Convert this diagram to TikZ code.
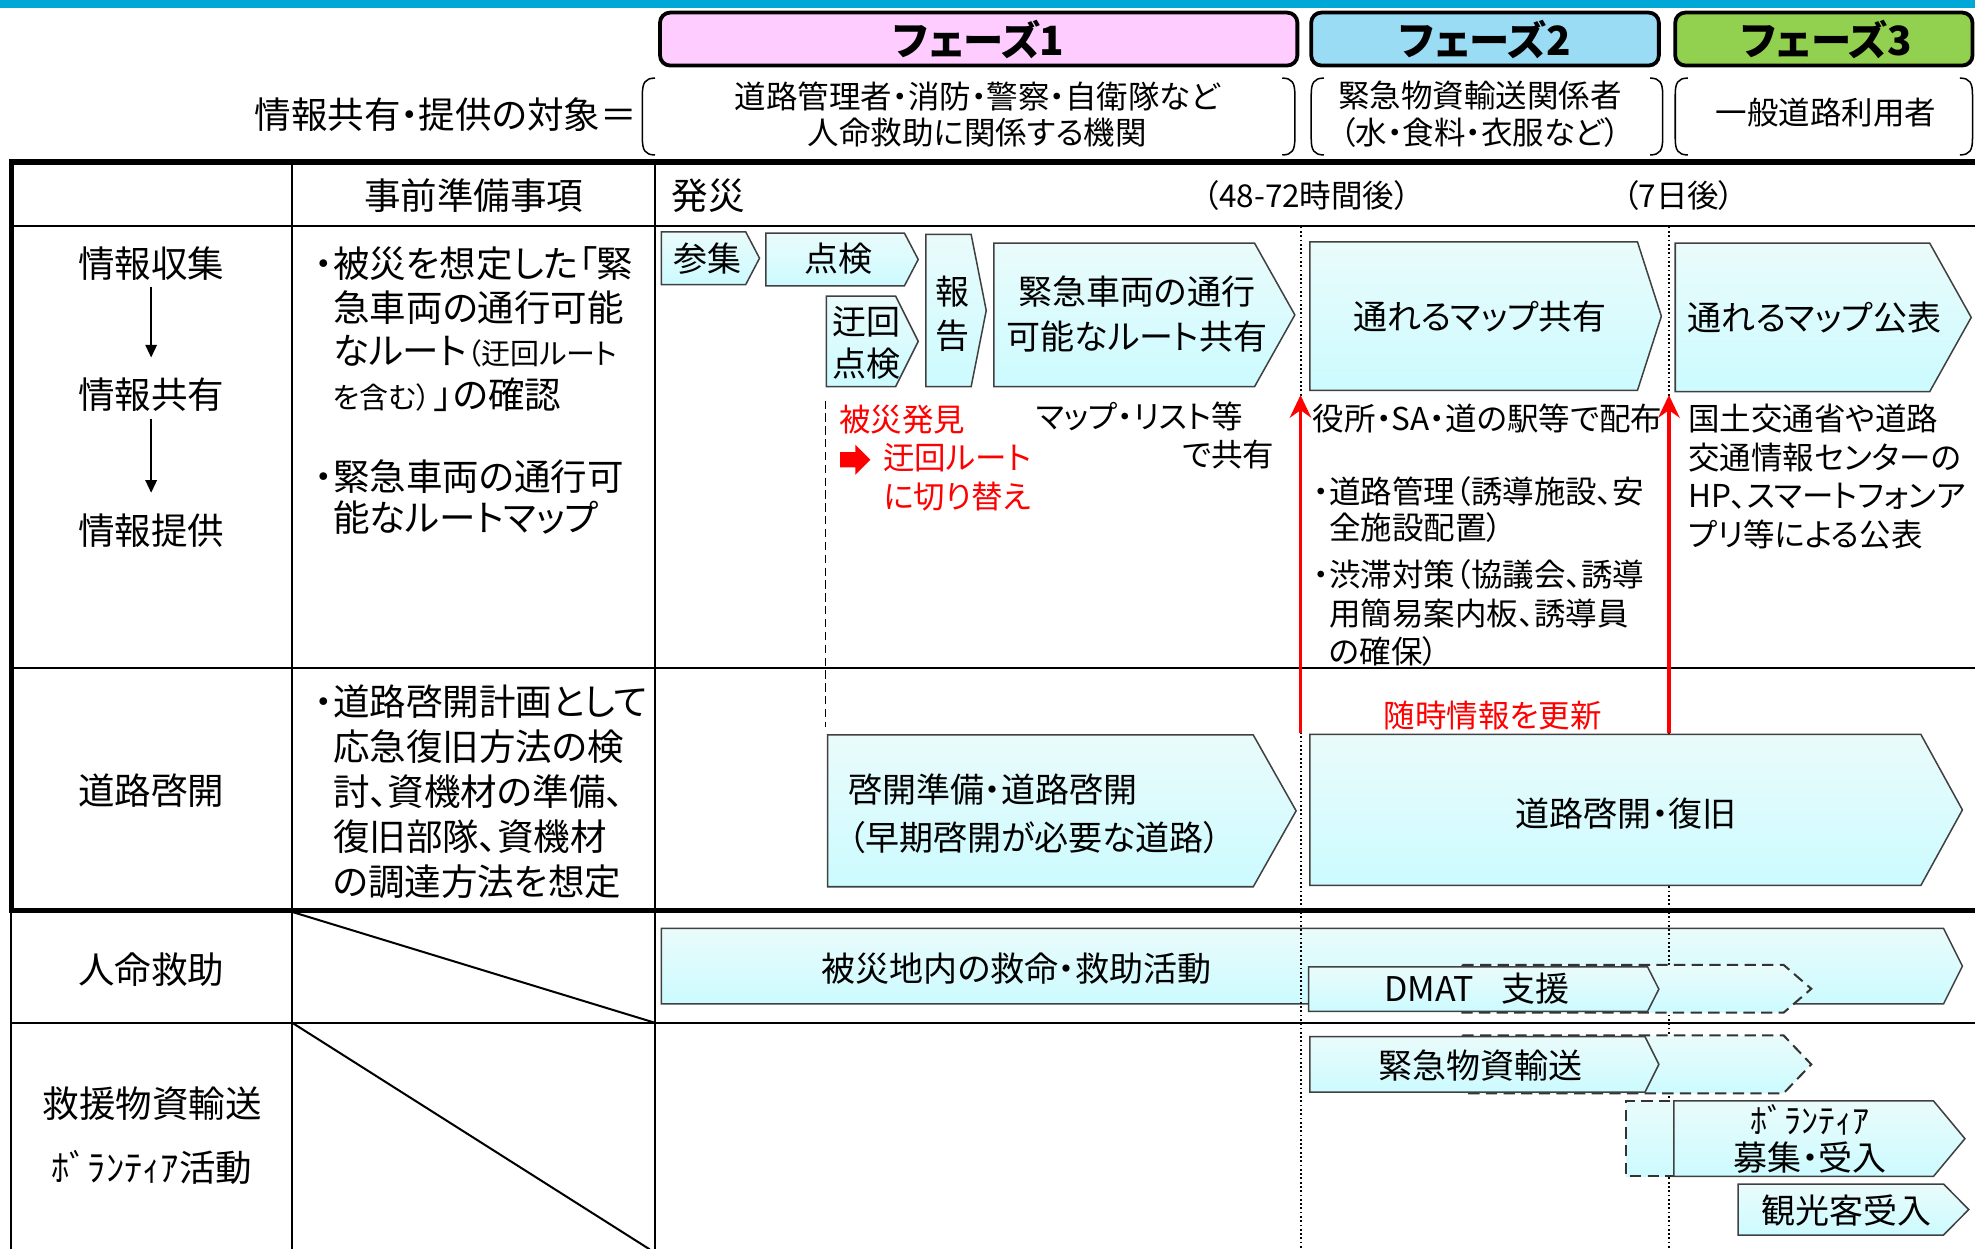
\documentclass[tikz,border=0pt]{standalone}
\usepackage{fontspec}
\setmainfont{Noto Sans CJK JP}[RawFeature=+palt]
\usetikzlibrary{arrows.meta}
\definecolor{band}{HTML}{00A8D8}
\definecolor{ph1}{HTML}{FFCCFF}
\definecolor{ph2}{HTML}{9BDCF5}
\definecolor{ph3}{HTML}{92D050}
\definecolor{chevT}{HTML}{EAFBFB}
\definecolor{chevB}{HTML}{CCFBFF}
\newcommand\chevpath[6][]{%
  \path[chevbox,#1] (#2,#3) -- (#4,#3) -- (#6,{(#3+#5)/2}) -- (#4,#5) -- (#2,#5) -- cycle;}
\newcommand\lbrk[3]{\draw[brk] (#1+10,#2) .. controls (#1+2,#2) and (#1,#2+4) .. (#1,#2+13) -- (#1,#3-13) .. controls (#1,#3-4) and (#1+2,#3) .. (#1+10,#3);}
\newcommand\rbrk[3]{\draw[brk] (#1-10,#2) .. controls (#1-2,#2) and (#1,#2+4) .. (#1,#2+13) -- (#1,#3-13) .. controls (#1,#3-4) and (#1-2,#3) .. (#1-10,#3);}
\tikzset{
  chevbox/.style={draw=black!75, line width=0.6pt, top color=chevT, bottom color=chevB},
  dchev/.style={draw=black!80, line width=0.8pt, dash pattern=on 4.5pt off 2.5pt},
  brk/.style={draw=black, line width=0.6pt},
  thickln/.style={draw=black, line width=2.2pt},
  thinln/.style={draw=black, line width=0.8pt},
  dotln/.style={draw=black, line width=0.7pt, dash pattern=on 0.7pt off 1pt},
  dashln/.style={draw=black, line width=0.6pt, dash pattern=on 3.3pt off 1.8pt},
  redarr/.style={draw=red, line width=1.5pt, -{Stealth[length=9pt,width=8.5pt,inset=3pt]}},
  blkarr/.style={draw=black, line width=0.75pt, -{Triangle[length=5pt,width=4.5pt]}},
  phbox/.style={draw=black, line width=1.5pt, rounded corners=4pt},
  phtitle/.style={inner sep=0pt, font=\fontsize{16}{18}\selectfont\bfseries},
  tL/.style={inner sep=0pt, font=\fontsize{14.5}{17.5}\selectfont},
  tM/.style={inner sep=0pt, font=\fontsize{13.5}{16}\selectfont},
  tS/.style={inner sep=0pt, font=\fontsize{12.5}{14.5}\selectfont},
}
\begin{document}
\begin{tikzpicture}[x=0.5pt,y=-0.5pt]
\useasboundingbox (0,0) rectangle (1568,991.6);
% top band
\fill[band] (0,0) rectangle (1568,6.5);
% phase boxes
\draw[phbox,fill=ph1] (524,10) rectangle (1030,52);
\draw[phbox,fill=ph2] (1041,10) rectangle (1317,52);
\draw[phbox,fill=ph3] (1330,10) rectangle (1566,52);
\node[phtitle] (p1) at (777,31) {フェーズ1};
\node[phtitle] (p2) at (1179,31) {フェーズ2};
\node[phtitle] (p3) at (1450,31) {フェーズ3};
% brackets
\lbrk{510}{62}{123}\rbrk{1028}{62}{123}
\lbrk{1041}{62}{123}\rbrk{1320}{62}{123}
\lbrk{1330}{62}{123}\rbrk{1566}{62}{123}
\node[tL,anchor=east] (target) at (506,91) {情報共有・提供の対象＝};
\node[tS,align=center] (t1) at (776,91) {道路管理者・消防・警察・自衛隊など\\人命救助に関係する機関};
\node[tS,align=center] (t2) at (1175,90.5) {緊急物資輸送関係者\\（水・食料・衣服など）};
\node[tS] (t3) at (1449.5,89) {一般道路利用者};

% big rescue chevron (under dotted lines)
\chevpath{525}{737}{1543}{797}{1558}

% dotted time lines
\coordinate (d1t) at (1033,180); \coordinate (d1b) at (1033,992);
\coordinate (d2t) at (1325,180); \coordinate (d2b) at (1325,992);
\draw[dotln] (d1t) -- (d1b);
\draw[dotln] (d2t) -- (d2b);

% table lines
\draw[thinln] (9,179.5) -- (1568,179.5);
\draw[thinln] (9,530.5) -- (1568,530.5);
\draw[thinln] (9,812) -- (1568,812);
\draw[thinln] (232,128.5) -- (232,992);
\draw[thinln] (520,128.5) -- (520,992);
\draw[thinln] (9,723) -- (9,992);
\draw[thinln] (232,724) -- (520,812);
\draw[thinln] (232,812) -- (516,992);
\draw[thickln] (7,128.5) -- (1568,128.5);
\draw[thickln] (9,127.5) -- (9,724);
\draw[thickln] (7,723) -- (1568,723);

% info row chevrons
\chevpath{525}{184}{592}{226}{603}
\chevpath{608}{185}{718}{227}{729}
\chevpath{656}{235}{711}{307}{729}
\chevpath{735}{186}{771}{307}{783}
\chevpath{789}{193}{996}{307}{1028}
\chevpath{1040}{192}{1300}{310}{1319}
\chevpath{1330}{193}{1532}{311}{1565}
% road row chevrons
\chevpath{657}{583.5}{995}{704}{1029}
\chevpath{1040}{583}{1525}{703}{1558}
% dashed extensions
\chevpath[dchev]{1161}{766}{1416}{804}{1438}
\chevpath[dchev,fill=white]{1161}{822}{1416}{868}{1438}
\path[dchev,top color=chevT,bottom color=chevB] (1340,874) -- (1291,874) -- (1291,934) -- (1340,934);
% solid lower chevrons
\chevpath{1039}{767.6}{1308}{803}{1317}
\chevpath{1040}{823}{1306}{867}{1317}
\chevpath{1329}{874}{1535}{934}{1560}
\chevpath{1380}{940}{1543}{980.5}{1563}

% header texts
\node[tL] (hdr) at (376,155) {事前準備事項};
\node[tL,anchor=west] (hassai) at (533,155) {発災};
\node[tS,anchor=west] (h48) at (955,155) {（48-72時間後）};
\node[tS,anchor=west] (h7) at (1288,155) {（7日後）};

% column 1
\node[tL] (c1) at (120,209) {情報収集};
\node[tL] (c2) at (120,313.6) {情報共有};
\node[tL] (c3) at (120,421) {情報提供};
\node[tL] (c4) at (120,628) {道路啓開};
\node[tL] (c5) at (120,770) {人命救助};
\node[tL] (c6) at (121,876) {救援物資輸送};
\node[tL] (c7) at (120.5,926.5) {ﾎﾞﾗﾝﾃｨｱ活動};
\draw[blkarr,shorten <=2.5pt,shorten >=8pt] (c1.south) -- (c2.north);
\draw[blkarr,shorten <=2.5pt,shorten >=8pt] (c2.south) -- (c3.north);

% column 2
\node[tL,align=left,anchor=west,font=\fontsize{14.5}{17.45}\selectfont] (q1) at (264,261.3)
  {\llap{・}被災を想定した「緊\\急車両の通行可能\\なルート{\fontsize{11.5}{11.5}\selectfont （迂回ルート}\\{\fontsize{11.5}{11.5}\selectfont を含む）}\hspace{1.5pt}」の確認};
\node[tL,align=left,anchor=west,font=\fontsize{14.5}{16.5}\selectfont] (q2) at (264,394.5)
  {\llap{・}緊急車両の通行可\\能なルートマップ};
\node[tL,align=left,anchor=west,font=\fontsize{14.5}{17.9}\selectfont] (q3) at (264,628.5)
  {\llap{・}道路啓開計画として\\応急復旧方法の検\\討、資機材の準備、\\復旧部隊、資機材\\の調達方法を想定};

% notes in info row
\node[tS,anchor=west,text=red] (r1) at (666,333) {被災発見};
\fill[red] (667,359) -- (679,359) -- (679,353) -- (691,365) -- (679,377) -- (679,371) -- (667,371) -- cycle;
\node[tS,anchor=west,align=left,text=red,font=\fontsize{12.5}{15.25}\selectfont] (r2) at (701,379) {迂回ルート\\に切り替え};
\node[tS,anchor=west] (m1) at (822,331) {マップ・リスト等};
\node[tS,anchor=east] (m2) at (1012,361) {で共有};
\node[tS,anchor=west] (m3) at (1042,332) {役所・SA・道の駅等で配布};
\node[tS,anchor=west,align=left,font=\fontsize{12.5}{14.25}\selectfont] (m4) at (1055,404.75)
  {\llap{・}道路管理（誘導施設、安\\全施設配置）};
\node[tS,anchor=west,align=left,font=\fontsize{12.5}{15.25}\selectfont] (m5) at (1055,487)
  {\llap{・}渋滞対策（協議会、誘導\\用簡易案内板、誘導員\\の確保）};
\node[tS,anchor=west,align=left,font=\fontsize{12.5}{15.45}\selectfont] (m6) at (1340,378.35)
  {国土交通省や道路\\交通情報センターの\\HP、スマートフォンア\\プリ等による公表};
\node[tS,text=red] (upd) at (1185,568) {随時情報を更新};

% dashed marker and red arrows
\coordinate (k1) at (655.5,318); \coordinate (k2) at (655.5,577);
\draw[dashln] (k1) -- (k2);
\coordinate (ra1) at (1032.5,582); \coordinate (ra2) at (1032.5,313.6);
\coordinate (rb1) at (1325,582); \coordinate (rb2) at (1325,313.6);
\draw[redarr] (ra1) -- (ra2);
\draw[redarr] (rb1) -- (rb2);

% chevron texts
\node[tM] (x1) at (561.6,205) {参集};
\node[tM] (x2) at (666,205) {点検};
\node[tM,align=center,font=\fontsize{13.5}{16.5}\selectfont] (x3) at (688,272) {迂回\\点検};
\node[tM,align=center,font=\fontsize{13.5}{17.25}\selectfont] (x4) at (756,249) {報\\告};
\node[tM,align=center,font=\fontsize{13.5}{18}\selectfont] (x5) at (902.5,249.5) {緊急車両の通行\\可能なルート共有};
\node[tM] (x6) at (1175,251.5) {通れるマップ共有};
\node[tM] (x7) at (1440.5,252.5) {通れるマップ公表};
\node[tM,anchor=west,align=left,font=\fontsize{13.5}{19}\selectfont] (x8) at (673,646) {啓開準備・道路啓開\\（早期啓開が必要な道路）};
\node[tM] (x9) at (1291,646) {道路啓開・復旧};
\node[tM] (x10) at (807,769) {被災地内の救命・救助活動};
\node[tM] (x11) at (1172.5,785) {DMAT\hspace{0.8em}支援};
\node[tM] (x12) at (1175.5,846) {緊急物資輸送};
\node[tM,align=center,font=\fontsize{13.5}{14.75}\selectfont] (x13) at (1437,904) {ﾎﾞﾗﾝﾃｨｱ\\募集・受入};
\node[tM] (x14) at (1466,961) {観光客受入};
\end{tikzpicture}
\end{document}
